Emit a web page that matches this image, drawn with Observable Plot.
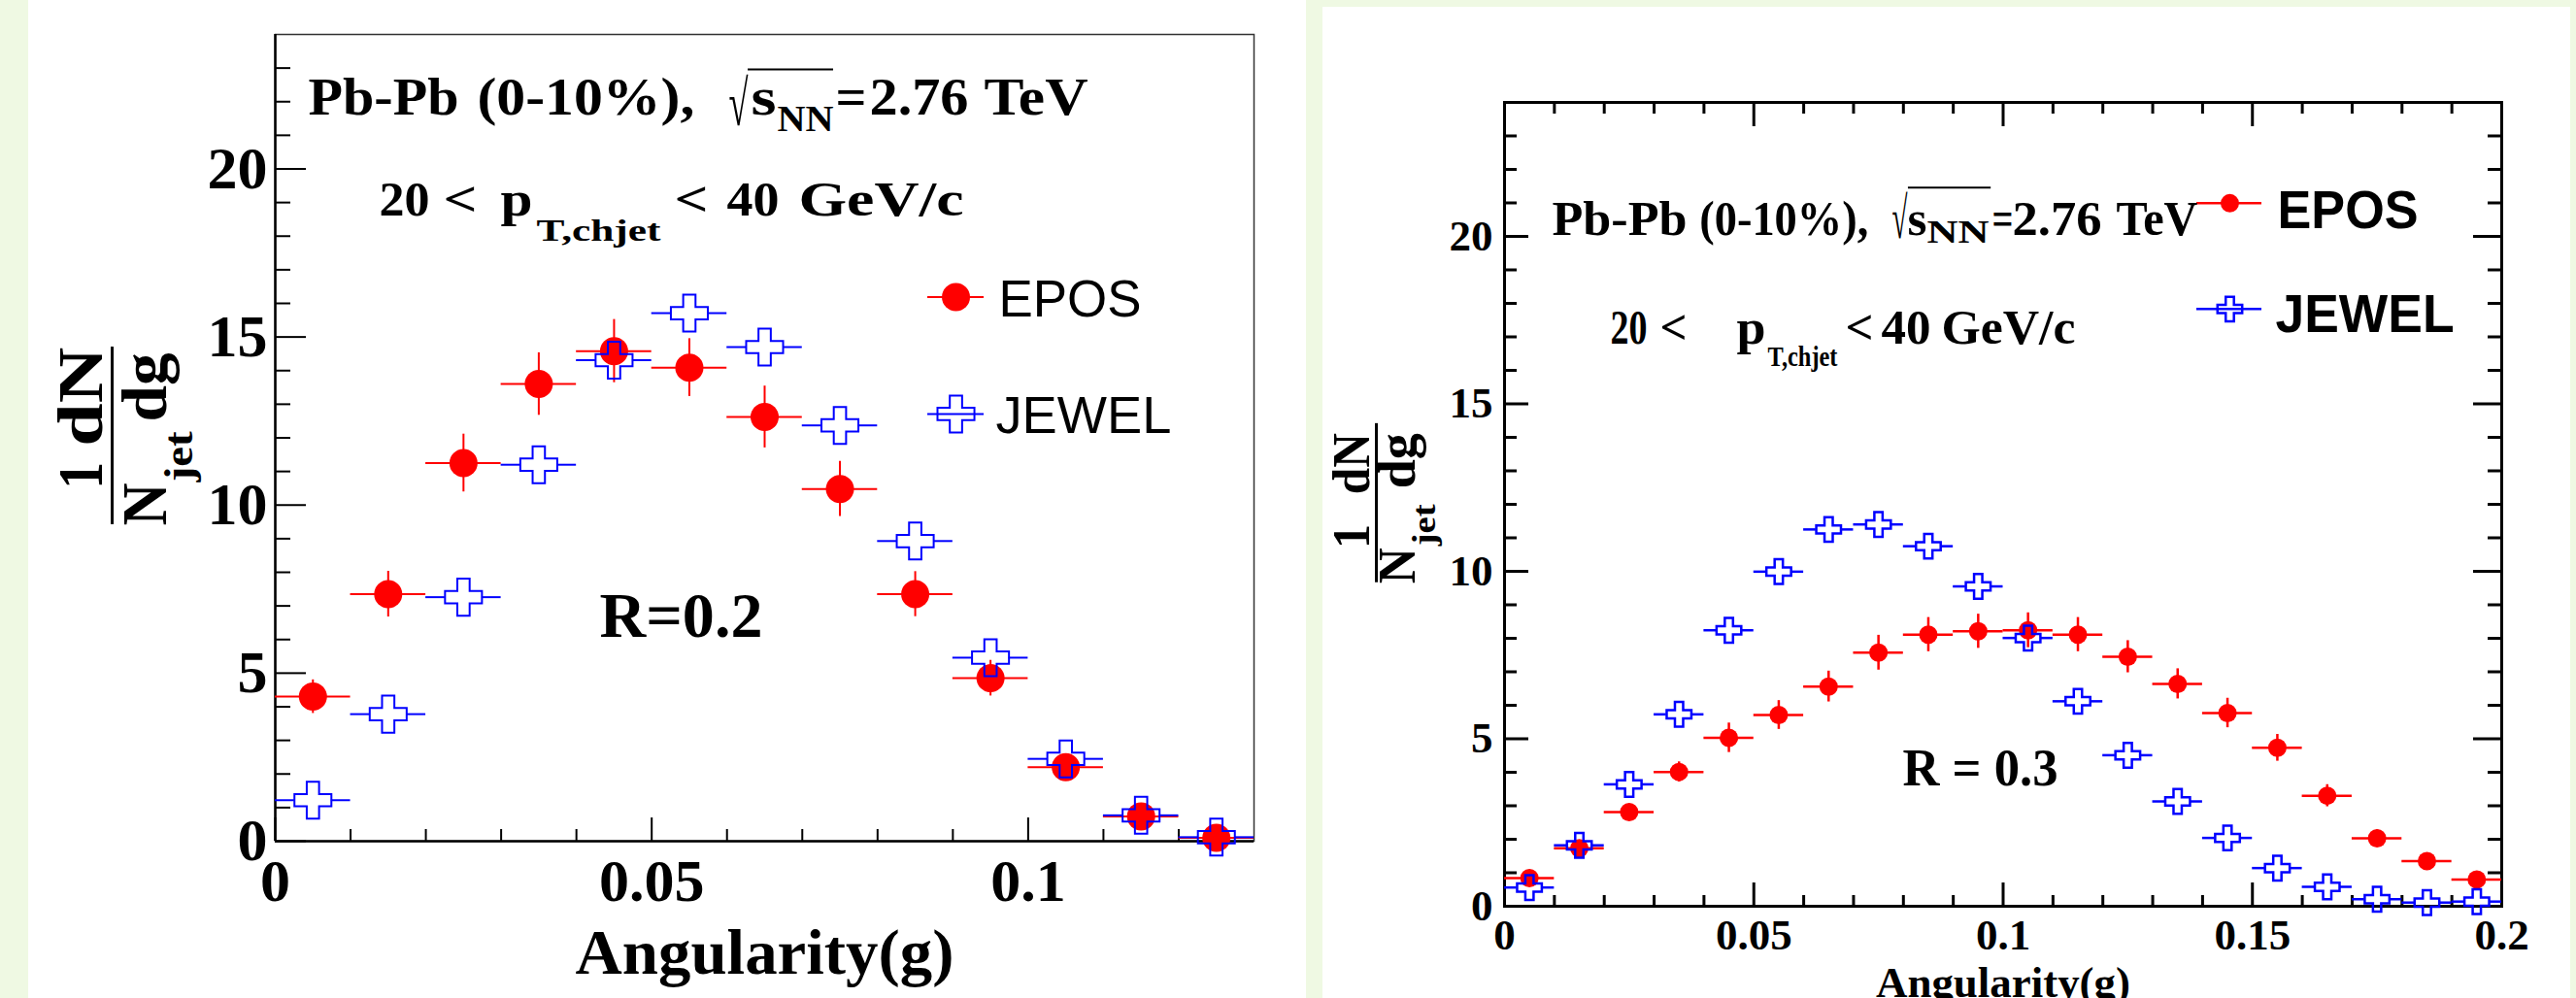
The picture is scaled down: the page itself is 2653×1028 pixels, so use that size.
<!DOCTYPE html>
<html><head><meta charset="utf-8">
<script src="https://cdn.jsdelivr.net/npm/d3@7"></script>
<script src="https://cdn.jsdelivr.net/npm/@observablehq/plot@0.6"></script>
<style>
html,body{margin:0;padding:0;background:#eff9e3;width:2653px;height:1028px;overflow:hidden}
.panel{position:absolute;background:#fff;overflow:hidden}
</style></head><body>
<div id="L" class="panel" style="left:29px;top:0;width:1316px;height:1028px"></div>
<div id="R" class="panel" style="left:1362px;top:7px;width:1285px;height:1021px"></div>
<script>
// ---------------- data ----------------
const binsR02 = [0.005,0.015,0.025,0.035,0.045,0.055,0.065,0.075,0.085,0.095,0.105,0.115,0.125];
const eposR02 = [4.30,7.35,11.25,13.60,14.58,14.09,12.62,10.48,7.35,4.85,2.20,0.74,0.10];
const eposErrR02 = [0.50,0.68,0.86,0.93,0.94,0.86,0.92,0.82,0.67,0.53,0.30,0.15,0.05];
const jewelR02 = [1.22,3.78,7.26,11.20,14.31,15.71,14.70,12.37,8.93,5.46,2.45,0.77,0.12];

const binsR03 = [0.005,0.015,0.025,0.035,0.045,0.055,0.065,0.075,0.085,0.095,0.105,0.115,0.125,0.135,0.145,0.155,0.165,0.175,0.185,0.195];
const eposR03 = [0.84,1.73,2.81,4.01,5.03,5.71,6.56,7.57,8.11,8.21,8.24,8.11,7.45,6.64,5.77,4.73,3.30,2.03,1.35,0.80];
const eposErrR03 = [0.15,0.20,0.20,0.30,0.44,0.43,0.46,0.52,0.51,0.51,0.52,0.51,0.48,0.45,0.44,0.40,0.33,0.25,0.20,0.15];
const jewelR03 = [0.56,1.82,3.64,5.73,8.24,9.99,11.25,11.40,10.75,9.55,8.01,6.12,4.51,3.13,2.04,1.14,0.58,0.21,0.11,0.14];

const binHalf = 0.005;
const yTicksMajor = [0,5,10,15,20];
const yTicksMinor = d3.range(1,24).filter(v => v % 5 !== 0);
const xTicksMajorR02 = [0,0.05,0.1];
const xTicksMajorR03 = [0,0.05,0.1,0.15,0.2];
const xTicksMinorR02 = [0.01,0.02,0.03,0.04,0.06,0.07,0.08,0.09,0.11,0.12];
const xTicksMinorR03 = [0.01,0.02,0.03,0.04,0.06,0.07,0.08,0.09,0.11,0.12,0.13,0.14,0.16,0.17,0.18,0.19];
const seriesNames = ["EPOS","JEWEL"];

const RED = "#ff0000", BLUE = "#0000ff";
const serif = "'Liberation Serif','Times New Roman',serif";
const sans = "'Liberation Sans',Arial,sans-serif";

const r02 = binsR02.map((g,i)=>({g, epos:eposR02[i], err:eposErrR02[i], jewel:jewelR02[i]}));
const r03 = binsR03.map((g,i)=>({g, epos:eposR03[i], err:eposErrR03[i], jewel:jewelR03[i]}));

// text piece: [text, x, y, fontSize, width(px), opts]
function lab(text, x, y, size, w, o = {}) {
  return Plot.text([0], {x: () => x, y: () => y, text: () => text, fontSize: size,
    fontFamily: o.family || serif, fontWeight: o.weight || "bold",
    textAnchor: o.anchor || "start", lineAnchor: "bottom", rotate: o.rotate || 0, fill: "#000",
    ariaDescription: w ? "w:" + w : undefined});
}
function fitWidths(svg) {
  svg.querySelectorAll('g[aria-description^="w:"]').forEach(g => {
    const w = g.getAttribute("aria-description").slice(2);
    g.querySelectorAll("text").forEach(t => {
      t.setAttribute("textLength", w);
      t.setAttribute("lengthAdjust", "spacingAndGlyphs");
    });
  });
}
function fmt(d){ return String(d); }

function panel(cfg) {
  const fw = cfg.width - cfg.ml - cfg.mr, fh = cfg.height - cfg.mt - cfg.mb;
  const marks = [];
  const t = cfg.ticks;
  marks.push(Plot.tickY(yTicksMinor, {y: d=>d, insetRight: fw - t.yMinor, stroke:"#000", strokeWidth: t.sw}));
  marks.push(Plot.tickY(yTicksMajor, {y: d=>d, insetRight: fw - t.yMajor, stroke:"#000", strokeWidth: t.sw}));
  marks.push(Plot.tickX(cfg.xMinor, {x: d=>d, insetTop: fh - t.xMinor, stroke:"#000", strokeWidth: t.sw}));
  marks.push(Plot.tickX(cfg.xMajor, {x: d=>d, insetTop: fh - t.xMajor, stroke:"#000", strokeWidth: t.sw}));
  if (cfg.allSides) {
    marks.push(Plot.tickY(yTicksMinor, {y: d=>d, insetLeft: fw - t.rMinor, stroke:"#000", strokeWidth: t.sw}));
    marks.push(Plot.tickY(yTicksMajor, {y: d=>d, insetLeft: fw - t.rMajor, stroke:"#000", strokeWidth: t.sw}));
    marks.push(Plot.tickX(cfg.xMinor, {x: d=>d, insetBottom: fh - t.tMinor, stroke:"#000", strokeWidth: t.sw}));
    marks.push(Plot.tickX(cfg.xMajor, {x: d=>d, insetBottom: fh - t.tMajor, stroke:"#000", strokeWidth: t.sw}));
  }
  marks.push(Plot.frame({stroke: cfg.frameColor, strokeWidth: cfg.frameW}));
  if (!cfg.allSides) {
    marks.push(Plot.ruleX([0], {stroke:"#000", strokeWidth: cfg.axisW}));
    marks.push(Plot.ruleY([0], {stroke:"#000", strokeWidth: cfg.axisW}));
  }
  marks.push(Plot.text(cfg.xMajor, {x: d=>d, frameAnchor:"bottom", dy: cfg.xPad, lineAnchor:"top", text: fmt,
    fontSize: cfg.tickFont, fontFamily: serif, fontWeight:"bold"}));
  marks.push(Plot.text(yTicksMajor, {y: d=>d, frameAnchor:"left", dx: -cfg.yPad, textAnchor:"end", lineAnchor:"middle", text: fmt,
    fontSize: cfg.tickFont, fontFamily: serif, fontWeight:"bold"}));
  // EPOS
  const d = cfg.data, lw = cfg.lineW;
  marks.push(Plot.ruleY(d, {x1: e=>e.g-binHalf, x2: e=>e.g+binHalf, y: "epos", stroke: RED, strokeWidth: lw}));
  marks.push(Plot.ruleX(d, {x: "g", y1: e=>e.epos-e.err, y2: e=>e.epos+e.err, stroke: RED, strokeWidth: lw}));
  marks.push(Plot.dot(d, {x: "g", y: "epos", r: cfg.dotR, fill: RED, stroke: "none"}));
  // JEWEL
  marks.push(Plot.ruleY(d, {x1: e=>e.g-binHalf, x2: e=>e.g, y: "jewel", insetRight: cfg.crossHalf, stroke: BLUE, strokeWidth: lw}));
  marks.push(Plot.ruleY(d, {x1: e=>e.g, x2: e=>e.g+binHalf, y: "jewel", insetLeft: cfg.crossHalf, stroke: BLUE, strokeWidth: lw}));
  marks.push(Plot.dot(d, {x: "g", y: "jewel", r: cfg.crossR, symbol: "cross", fill: "none", stroke: BLUE, strokeWidth: lw}));
  // legend
  const L = cfg.legend;
  marks.push(Plot.ruleY([L.y1], {x1: () => L.x1, x2: () => L.x2, y: v=>v, stroke: RED, strokeWidth: lw}));
  marks.push(Plot.dot([L.y1], {x: () => L.xm, y: v=>v, r: cfg.dotR, fill: RED}));
  marks.push(Plot.ruleY([L.y2], {x1: () => L.x1, x2: () => L.x2, y: v=>v, stroke: BLUE, strokeWidth: lw}));
  marks.push(Plot.dot([L.y2], {x: () => L.xm, y: v=>v, r: cfg.crossR, symbol:"cross", fill:"none", stroke: BLUE, strokeWidth: lw}));
  marks.push(lab(seriesNames[0], L.tx1, L.ty1, L.font, L.w1, {family: sans, weight: L.weight}));
  marks.push(lab(seriesNames[1], L.tx2, L.ty2, L.font, L.w2, {family: sans, weight: L.weight}));
  // overline of sqrt
  const O = cfg.overline;
  marks.push(Plot.ruleY([O.y], {x1: () => O.x1, x2: () => O.x2, y: v=>v, stroke:"#000", strokeWidth: 2}));
  // fraction bar of y title
  const F = cfg.fracBar;
  marks.push(Plot.ruleX([F.x], {x: v=>v, y1: () => F.y1, y2: () => F.y2, stroke:"#000", strokeWidth: 3}));
  for (const p of cfg.labels) marks.push(lab(p[0], p[1], p[2], p[3], p[4], p[5] || {}));
  const svg = Plot.plot({
    width: cfg.width, height: cfg.height,
    marginLeft: cfg.ml, marginRight: cfg.mr, marginTop: cfg.mt, marginBottom: cfg.mb,
    x: {domain: cfg.xDomain, axis: null},
    y: {domain: [0,24], axis: null},
    style: {background: "transparent"},
    marks
  });
  fitWidths(svg);
  return svg;
}

const rot = {rotate: -90};
const left = panel({
  width: 1316, height: 1028, ml: 254, mr: 54, mt: 35, mb: 162,
  xDomain: [0, 0.13], xMajor: xTicksMajorR02, xMinor: xTicksMinorR02, data: r02,
  allSides: false, frameColor: "#333", frameW: 1.5, axisW: 2.5,
  ticks: {yMajor: 32, yMinor: 16, xMajor: 24, xMinor: 12, sw: 2},
  tickFont: 62, xPad: 17, yPad: 8, lineW: 2,
  dotR: 14.5, crossR: 16, crossHalf: 19,
  legend: {x1: 0.08667, x2: 0.09415, xm: 0.09041, y1: 16.19, y2: 12.71,
           tx1: 0.09608, ty1: 15.60, w1: 147, tx2: 0.09569, ty2: 12.13, w2: 181, font: 54, weight: "normal"},
  overline: {y: 22.96, x1: 0.06281, x2: 0.07416},
  fracBar: {x: -0.02167, y1: 9.415, y2: 14.70},
  labels: [
    ["Pb-Pb", 0.00438, 21.63, 55, 155], ["(0-10%),", 0.02682, 21.63, 55, 224],
    ["√", 0.06023, 21.31, 66, 20], ["s", 0.06319, 21.63, 55, 26], ["NN", 0.06668, 21.14, 38, 58],
    ["=", 0.07441, 21.63, 55, 32], ["2.76", 0.07893, 21.63, 55, 102], ["TeV", 0.09415, 21.63, 55, 107],
    ["20", 0.0138, 18.60, 50, 52], ["<", 0.02231, 18.60, 50, 35], ["p", 0.02992, 18.60, 50, 33],
    ["T,chjet", 0.03469, 17.85, 32, 128], ["<", 0.0530, 18.60, 50, 35], ["40", 0.05997, 18.60, 50, 54],
    ["GeV/c", 0.06951, 18.60, 50, 170],
    ["R=0.2", 0.04307, 6.065, 66, 168],
    ["Angularity(g)", 0.065, -3.93, 65, 390, {anchor: "middle"}],
    ["1", -0.02296, 10.48, 66, 28, rot], ["dN", -0.02296, 11.75, 66, 102, rot],
    ["N", -0.01457, 9.386, 66, 44, rot], ["jet", -0.01109, 10.69, 42, 52, rot], ["dg", -0.01457, 12.48, 66, 71, rot]
  ]
});
document.getElementById("L").appendChild(left);

const right = panel({
  width: 1285, height: 1021, ml: 187, mr: 71, mt: 98, mb: 95,
  xDomain: [0, 0.2], xMajor: xTicksMajorR03, xMinor: xTicksMinorR03, data: r03,
  allSides: true, frameColor: "#000", frameW: 3, axisW: 3,
  ticks: {yMajor: 25, yMinor: 13, xMajor: 24, xMinor: 11, rMajor: 29, rMinor: 14, tMajor: 25, tMinor: 12, sw: 3},
  tickFont: 45, xPad: 13, yPad: 12, lineW: 2.5,
  dotR: 9.5, crossR: 10.7, crossHalf: 13,
  legend: {x1: 0.13885, x2: 0.1519, xm: 0.14547, y1: 20.99, y2: 17.83,
           tx1: 0.15502, ty1: 20.26, w1: 145, tx2: 0.15463, ty2: 17.15, w2: 184, font: 56, weight: "bold"},
  overline: {y: 21.46, x1: 0.0810, x2: 0.0976},
  fracBar: {x: -0.0257, y1: 9.66, y2: 14.41},
  labels: [
    ["Pb-Pb", 0.00954, 20.05, 50, 139], ["(0-10%),", 0.0391, 20.05, 50, 174],
    ["√", 0.0777, 19.95, 60, 16], ["s", 0.08082, 20.05, 50, 20], ["NN", 0.08471, 19.81, 33, 64],
    ["=", 0.09776, 20.05, 50, 22], ["2.76", 0.10185, 20.05, 50, 92], ["TeV", 0.12268, 20.05, 50, 84],
    ["20", 0.02123, 16.81, 50, 38], ["<", 0.03116, 16.81, 50, 28], ["p", 0.04654, 16.81, 50, 30],
    ["T,chjet", 0.05277, 16.13, 30, 72], ["<", 0.06835, 16.81, 50, 29], ["40", 0.07556, 16.81, 50, 51],
    ["GeV/c", 0.08763, 16.81, 50, 138],
    ["R = 0.3", 0.07984, 3.60, 54, 160],
    ["Angularity(g)", 0.1, -2.72, 45, 262, {anchor: "middle"}],
    ["1", -0.02707, 10.68, 54, 25, rot], ["dN", -0.02707, 12.30, 54, 63, rot],
    ["N", -0.01792, 9.63, 54, 37, rot], ["jet", -0.01402, 10.76, 34, 43, rot], ["dg", -0.01792, 12.47, 54, 57, rot]
  ]
});
document.getElementById("R").appendChild(right);
</script>
</body></html>
